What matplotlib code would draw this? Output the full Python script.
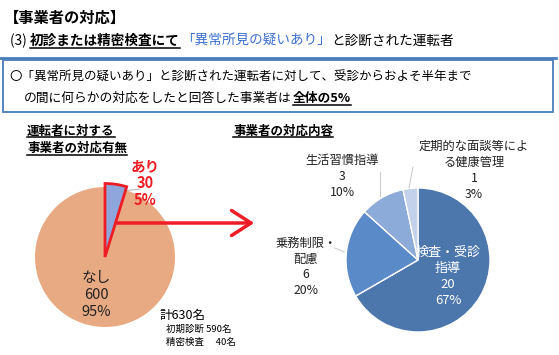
import matplotlib
matplotlib.use("Agg")
from matplotlib import pyplot as plt
from matplotlib.lines import Line2D
from matplotlib.patches import Rectangle, FancyArrowPatch

plt.rcParams['font.family'] = ['Noto Sans CJK JP', 'DejaVu Sans']

# left pie: 対応の有無
leftLabels = ['なし', 'あり']
leftValues = [600, 30]
leftPercents = ['95%', '5%']
# right pie: 対応内容
rightLabels = ['検査・受診\n指導', '乗務制限・\n配慮', '生活習慣指導', '定期的な面談等によ\nる健康管理']
rightValues = [20, 6, 3, 1]
rightPercents = ['67%', '20%', '10%', '3%']
breakdownLabels = ['初期診断', '精密検査']
breakdownValues = [590, 40]

W, H = 559, 355
fig = plt.figure(figsize=(W / 100, H / 100), dpi=100)
fig.patch.set_facecolor('white')
renderer = fig.canvas.get_renderer()


def fx(x):
    return x / W


def fy(y):
    return 1 - y / H


def seg(x, y, s, underline=False, **kw):
    t = fig.text(fx(x), fy(y), s, va='baseline', ha='left', **kw)
    x1 = t.get_window_extent(renderer).x1
    if underline:
        fig.add_artist(Line2D([fx(x), fx(x1)], [fy(y + 2.5)] * 2,
                              color=kw.get('color', 'black'), lw=1.1))
    return x1


# header
seg(4, 23, '【事業者の対応】', fontsize=11, fontweight='bold')
x = seg(10, 45, '(3) ', fontsize=9.8)
x = seg(x, 45, '初診または精密検査にて', underline=True, fontsize=9.8, fontweight='bold')
x = seg(x + 1, 45, '「異常所見の疑いあり」', fontsize=9.8, color='#3a6fd0')
seg(x + 1, 45, 'と診断された運転者', fontsize=9.8)
fig.add_artist(Line2D([0, fx(556)], [fy(58)] * 2, color='#4a7ebb', lw=2))

# summary box
fig.add_artist(Rectangle((fx(3), fy(112)), fx(553) - fx(3), fy(60) - fy(112),
                         fill=False, edgecolor='#4a7ebb', lw=1.3))
seg(9, 81, '〇「異常所見の疑いあり」と診断された運転者に対して、受診からおよそ半年まで', fontsize=9)
x = seg(24, 102, 'の間に何らかの対応をしたと回答した事業者は', fontsize=9.2)
seg(x + 1, 102, '全体の5%', underline=True, fontsize=9.2, fontweight='bold')

# subtitles
seg(27, 135, '運転者に対する', underline=True, fontsize=9, fontweight='bold')
seg(27, 152, '事業者の対応有無', underline=True, fontsize=9, fontweight='bold')
seg(233, 135, '事業者の対応内容', underline=True, fontsize=9, fontweight='bold')

# left pie
cx, cy, r = 105, 257, 70
axL = fig.add_axes([fx(cx - r), fy(cy + r), 2 * r / W, 2 * r / H])
wedges, _ = axL.pie(leftValues, startangle=90, counterclock=True,
                    colors=['#e8aa82', '#8ea6dc'], radius=1)
# あり wedge goes clockwise from top
cut = 90 - 360 * leftValues[1] / sum(leftValues)
wedges[1].set_theta1(cut)
wedges[1].set_theta2(90)
wedges[0].set_theta1(90)
wedges[0].set_theta2(cut + 360)
wedges[1].set_radius(1.05)
wedges[1].set_edgecolor('#ee1c25')
wedges[1].set_linewidth(2)
wedges[1].set_zorder(3)
axL.set_xlim(-1, 1)
axL.set_ylim(-1, 1)
axL.axis('off')
axL.plot([0.3, 0.5], [0.95, 0.97], color='#bbbbbb', lw=0.8)

fig.text(fx(96), fy(278), leftLabels[0], fontsize=10.5, ha='center', va='center', color='#222222')
fig.text(fx(96), fy(295), str(leftValues[0]), fontsize=10.5, ha='center', va='center', color='#222222')
fig.text(fx(96), fy(312), leftPercents[0], fontsize=10.5, ha='center', va='center', color='#222222')
fig.text(fx(145), fy(166), leftLabels[1], fontsize=10.5, ha='center', va='center', color='#ee1c25', fontweight='bold')
fig.text(fx(145), fy(183), str(leftValues[1]), fontsize=10.5, ha='center', va='center', color='#ee1c25', fontweight='bold')
fig.text(fx(145), fy(200), leftPercents[1], fontsize=10.5, ha='center', va='center', color='#ee1c25', fontweight='bold')

fig.text(fx(159), fy(315), f'計{sum(leftValues)}名', fontsize=9, va='center')
fig.text(fx(166), fy(329), f'{breakdownLabels[0]} {breakdownValues[0]}名', fontsize=6.8, va='center')
fig.text(fx(166), fy(342), f'{breakdownLabels[1]}　 {breakdownValues[1]}名', fontsize=6.8, va='center')

# arrow
fig.add_artist(FancyArrowPatch((fx(114), fy(223)), (fx(257), fy(223)), transform=fig.transFigure,
                               arrowstyle='->,head_length=14,head_width=9', color='#ee1c25', lw=2.5))

# right pie
cx2, cy2, r2 = 418, 260, 72
axR = fig.add_axes([fx(cx2 - r2), fy(cy2 + r2), 2 * r2 / W, 2 * r2 / H])
wedgesR, _ = axR.pie(rightValues, startangle=90, counterclock=False,
                     colors=['#4c77ad', '#5b8ac9', '#8dabd8', '#c3d1ea'],
                     wedgeprops=dict(edgecolor='white', linewidth=1))
axR.set_xlim(-1, 1)
axR.set_ylim(-1, 1)
axR.axis('off')

fig.text(fx(448), fy(276), f'{rightLabels[0]}\n{rightValues[0]}\n{rightPercents[0]}', fontsize=9.4,
         ha='center', va='center', color='white', linespacing=1.3)
fig.text(fx(306), fy(267), f'{rightLabels[1]}\n{rightValues[1]}\n{rightPercents[1]}', fontsize=8.8,
         ha='center', va='center', color='#222222', linespacing=1.3)
fig.text(fx(342), fy(176), f'{rightLabels[2]}\n{rightValues[2]}\n{rightPercents[2]}', fontsize=8.8,
         ha='center', va='center', color='#222222', linespacing=1.3)
fig.text(fx(474), fy(170), f'{rightLabels[3]}\n{rightValues[3]}\n{rightPercents[3]}', fontsize=8.8,
         ha='center', va='center', color='#222222', linespacing=1.3)
# leader lines
fig.add_artist(Line2D([fx(335), fx(344)], [fy(248), fy(252)], color='#cccccc', lw=0.8))
fig.add_artist(Line2D([fx(380), fx(380)], [fy(172), fy(196)], color='#cccccc', lw=0.8))
fig.add_artist(Line2D([fx(413), fx(409)], [fy(167), fy(188)], color='#cccccc', lw=0.8))

fig.savefig('out.png', dpi=100)
